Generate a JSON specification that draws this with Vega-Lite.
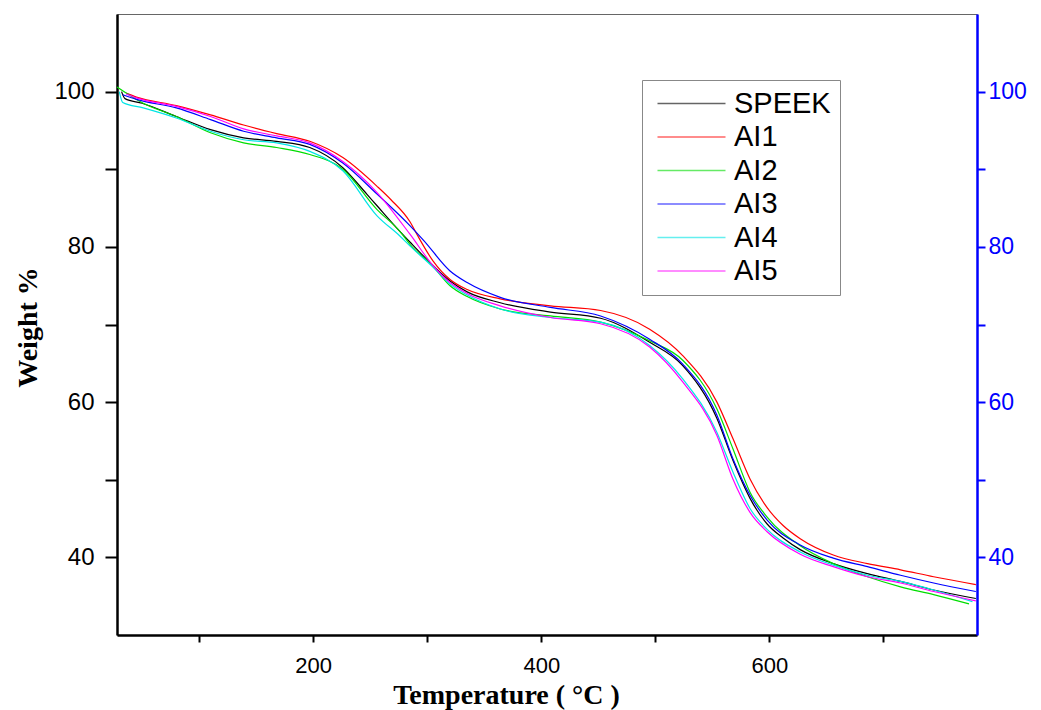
{
  "$schema": "https://vega.github.io/schema/vega-lite/v6.json",
  "width": 860,
  "height": 621,
  "autosize": "none",
  "padding": {"left": 117, "top": 14, "right": 64, "bottom": 75},
  "background": "white",
  "config": {
    "view": {"stroke": "#666666", "strokeWidth": 1},
    "axis": {"grid": false}
  },
  "data": {
    "values": [
      {"s": "SPEEK", "T": 32, "W": 100.0}, {"s": "SPEEK", "T": 35, "W": 99.1}, {"s": "SPEEK", "T": 50, "W": 98.5}, {"s": "SPEEK", "T": 80, "W": 96.8}, {"s": "SPEEK", "T": 110, "W": 95.1}, {"s": "SPEEK", "T": 139, "W": 94.05}, {"s": "SPEEK", "T": 168, "W": 93.6}, {"s": "SPEEK", "T": 197, "W": 92.8}, {"s": "SPEEK", "T": 226, "W": 90.2}, {"s": "SPEEK", "T": 247, "W": 86.8}, {"s": "SPEEK", "T": 256, "W": 85.3}, {"s": "SPEEK", "T": 276, "W": 82.0}, {"s": "SPEEK", "T": 285, "W": 80.6}, {"s": "SPEEK", "T": 305, "W": 77.6}, {"s": "SPEEK", "T": 320, "W": 75.6}, {"s": "SPEEK", "T": 335, "W": 74.2}, {"s": "SPEEK", "T": 364, "W": 72.8}, {"s": "SPEEK", "T": 408, "W": 71.6}, {"s": "SPEEK", "T": 452, "W": 70.8}, {"s": "SPEEK", "T": 495, "W": 67.7}, {"s": "SPEEK", "T": 524, "W": 64.7}, {"s": "SPEEK", "T": 554, "W": 57.9}, {"s": "SPEEK", "T": 568, "W": 52.5}, {"s": "SPEEK", "T": 583, "W": 47.6}, {"s": "SPEEK", "T": 598, "W": 44.3}, {"s": "SPEEK", "T": 612, "W": 42.5}, {"s": "SPEEK", "T": 627, "W": 41.0}, {"s": "SPEEK", "T": 656, "W": 39.2}, {"s": "SPEEK", "T": 686, "W": 37.9}, {"s": "SPEEK", "T": 715, "W": 36.9}, {"s": "SPEEK", "T": 744, "W": 35.8}, {"s": "SPEEK", "T": 781, "W": 34.7},

      {"s": "AI1", "T": 36, "W": 99.8}, {"s": "AI1", "T": 45, "W": 99.3}, {"s": "AI1", "T": 80, "W": 98.2}, {"s": "AI1", "T": 110, "W": 97.0}, {"s": "AI1", "T": 139, "W": 95.7}, {"s": "AI1", "T": 168, "W": 94.6}, {"s": "AI1", "T": 197, "W": 93.6}, {"s": "AI1", "T": 226, "W": 91.5}, {"s": "AI1", "T": 256, "W": 87.8}, {"s": "AI1", "T": 268, "W": 86.1}, {"s": "AI1", "T": 285, "W": 83.2}, {"s": "AI1", "T": 291, "W": 81.6}, {"s": "AI1", "T": 305, "W": 78.2}, {"s": "AI1", "T": 320, "W": 75.8}, {"s": "AI1", "T": 335, "W": 74.5}, {"s": "AI1", "T": 364, "W": 73.3}, {"s": "AI1", "T": 408, "W": 72.4}, {"s": "AI1", "T": 452, "W": 71.8}, {"s": "AI1", "T": 495, "W": 69.4}, {"s": "AI1", "T": 524, "W": 66.0}, {"s": "AI1", "T": 554, "W": 60.0}, {"s": "AI1", "T": 568, "W": 55.3}, {"s": "AI1", "T": 583, "W": 50.1}, {"s": "AI1", "T": 598, "W": 46.4}, {"s": "AI1", "T": 612, "W": 44.1}, {"s": "AI1", "T": 627, "W": 42.4}, {"s": "AI1", "T": 656, "W": 40.3}, {"s": "AI1", "T": 686, "W": 39.2}, {"s": "AI1", "T": 715, "W": 38.4}, {"s": "AI1", "T": 744, "W": 37.5}, {"s": "AI1", "T": 781, "W": 36.5},

      {"s": "AI2", "T": 28, "W": 100.6}, {"s": "AI2", "T": 51, "W": 98.5}, {"s": "AI2", "T": 80, "W": 96.8}, {"s": "AI2", "T": 110, "W": 94.7}, {"s": "AI2", "T": 139, "W": 93.4}, {"s": "AI2", "T": 168, "W": 92.8}, {"s": "AI2", "T": 197, "W": 91.9}, {"s": "AI2", "T": 226, "W": 90.0}, {"s": "AI2", "T": 256, "W": 84.8}, {"s": "AI2", "T": 276, "W": 82.0}, {"s": "AI2", "T": 285, "W": 80.3}, {"s": "AI2", "T": 305, "W": 77.5}, {"s": "AI2", "T": 320, "W": 75.0}, {"s": "AI2", "T": 335, "W": 73.6}, {"s": "AI2", "T": 364, "W": 72.0}, {"s": "AI2", "T": 408, "W": 71.1}, {"s": "AI2", "T": 452, "W": 70.3}, {"s": "AI2", "T": 495, "W": 67.9}, {"s": "AI2", "T": 524, "W": 65.4}, {"s": "AI2", "T": 554, "W": 59.1}, {"s": "AI2", "T": 568, "W": 54.0}, {"s": "AI2", "T": 583, "W": 48.4}, {"s": "AI2", "T": 598, "W": 45.2}, {"s": "AI2", "T": 627, "W": 41.5}, {"s": "AI2", "T": 656, "W": 39.2}, {"s": "AI2", "T": 686, "W": 37.5}, {"s": "AI2", "T": 715, "W": 36.2}, {"s": "AI2", "T": 744, "W": 35.2}, {"s": "AI2", "T": 775, "W": 34.0},

      {"s": "AI3", "T": 33, "W": 99.6}, {"s": "AI3", "T": 45, "W": 99.0}, {"s": "AI3", "T": 80, "W": 97.9}, {"s": "AI3", "T": 110, "W": 96.4}, {"s": "AI3", "T": 139, "W": 94.9}, {"s": "AI3", "T": 168, "W": 94.05}, {"s": "AI3", "T": 197, "W": 93.2}, {"s": "AI3", "T": 226, "W": 90.8}, {"s": "AI3", "T": 256, "W": 86.8}, {"s": "AI3", "T": 285, "W": 82.7}, {"s": "AI3", "T": 297, "W": 80.8}, {"s": "AI3", "T": 320, "W": 76.9}, {"s": "AI3", "T": 335, "W": 75.4}, {"s": "AI3", "T": 364, "W": 73.5}, {"s": "AI3", "T": 408, "W": 72.2}, {"s": "AI3", "T": 452, "W": 71.1}, {"s": "AI3", "T": 495, "W": 68.1}, {"s": "AI3", "T": 524, "W": 64.9}, {"s": "AI3", "T": 554, "W": 58.3}, {"s": "AI3", "T": 568, "W": 52.7}, {"s": "AI3", "T": 583, "W": 48.0}, {"s": "AI3", "T": 598, "W": 44.8}, {"s": "AI3", "T": 627, "W": 41.6}, {"s": "AI3", "T": 656, "W": 39.9}, {"s": "AI3", "T": 686, "W": 38.8}, {"s": "AI3", "T": 715, "W": 37.7}, {"s": "AI3", "T": 744, "W": 36.7}, {"s": "AI3", "T": 781, "W": 35.6},

      {"s": "AI4", "T": 30, "W": 100.0}, {"s": "AI4", "T": 33, "W": 98.6}, {"s": "AI4", "T": 51, "W": 97.9}, {"s": "AI4", "T": 80, "W": 96.6}, {"s": "AI4", "T": 110, "W": 94.9}, {"s": "AI4", "T": 139, "W": 93.8}, {"s": "AI4", "T": 168, "W": 93.4}, {"s": "AI4", "T": 197, "W": 92.3}, {"s": "AI4", "T": 226, "W": 89.8}, {"s": "AI4", "T": 256, "W": 84.0}, {"s": "AI4", "T": 276, "W": 81.4}, {"s": "AI4", "T": 285, "W": 80.1}, {"s": "AI4", "T": 305, "W": 77.4}, {"s": "AI4", "T": 320, "W": 75.2}, {"s": "AI4", "T": 335, "W": 73.8}, {"s": "AI4", "T": 364, "W": 72.0}, {"s": "AI4", "T": 408, "W": 70.9}, {"s": "AI4", "T": 452, "W": 70.3}, {"s": "AI4", "T": 495, "W": 67.3}, {"s": "AI4", "T": 524, "W": 63.0}, {"s": "AI4", "T": 554, "W": 56.1}, {"s": "AI4", "T": 568, "W": 51.0}, {"s": "AI4", "T": 583, "W": 46.3}, {"s": "AI4", "T": 598, "W": 43.6}, {"s": "AI4", "T": 627, "W": 40.7}, {"s": "AI4", "T": 656, "W": 39.0}, {"s": "AI4", "T": 686, "W": 37.7}, {"s": "AI4", "T": 715, "W": 36.9}, {"s": "AI4", "T": 744, "W": 35.8}, {"s": "AI4", "T": 778, "W": 34.3},

      {"s": "AI5", "T": 36, "W": 99.7}, {"s": "AI5", "T": 45, "W": 99.2}, {"s": "AI5", "T": 80, "W": 98.1}, {"s": "AI5", "T": 110, "W": 96.8}, {"s": "AI5", "T": 139, "W": 95.2}, {"s": "AI5", "T": 168, "W": 94.3}, {"s": "AI5", "T": 197, "W": 93.4}, {"s": "AI5", "T": 226, "W": 91.0}, {"s": "AI5", "T": 256, "W": 87.0}, {"s": "AI5", "T": 285, "W": 81.6}, {"s": "AI5", "T": 305, "W": 77.6}, {"s": "AI5", "T": 320, "W": 75.4}, {"s": "AI5", "T": 335, "W": 74.0}, {"s": "AI5", "T": 364, "W": 72.4}, {"s": "AI5", "T": 408, "W": 70.9}, {"s": "AI5", "T": 452, "W": 70.1}, {"s": "AI5", "T": 495, "W": 67.1}, {"s": "AI5", "T": 524, "W": 62.6}, {"s": "AI5", "T": 554, "W": 55.7}, {"s": "AI5", "T": 568, "W": 50.1}, {"s": "AI5", "T": 583, "W": 45.8}, {"s": "AI5", "T": 598, "W": 43.3}, {"s": "AI5", "T": 627, "W": 40.4}, {"s": "AI5", "T": 656, "W": 38.8}, {"s": "AI5", "T": 686, "W": 37.5}, {"s": "AI5", "T": 715, "W": 36.7}, {"s": "AI5", "T": 744, "W": 35.6}, {"s": "AI5", "T": 781, "W": 34.4}
    ]
  },
  "layer": [
    {
      "mark": {"type": "line", "strokeWidth": 1.2, "interpolate": "monotone"},
      "encoding": {
        "x": {
          "field": "T", "type": "quantitative",
          "scale": {"domain": [28, 782], "nice": false, "zero": false},
          "axis": {
            "values": [100, 200, 300, 400, 500, 600, 700],
            "labelExpr": "datum.value % 200 == 0 ? datum.label : ''",
            "domainColor": "black", "domainWidth": 2.5,
            "tickColor": "black", "tickWidth": 2, "tickSize": 7,
            "labelFont": "Liberation Sans", "labelFontSize": 22, "labelColor": "black", "labelPadding": 13,
            "title": "Temperature ( °C )",
            "titleFont": "Liberation Serif", "titleFontSize": 28, "titleFontWeight": "bold", "titleColor": "black",
            "titleX": 389, "titleY": 68, "titleAlign": "center", "titleBaseline": "alphabetic"
          }
        },
        "y": {
          "field": "W", "type": "quantitative",
          "scale": {"domain": [30, 110], "nice": false, "zero": false},
          "axis": {
            "orient": "left",
            "values": [40, 50, 60, 70, 80, 90, 100],
            "labelExpr": "datum.value % 20 == 0 ? datum.label : ''",
            "domainColor": "black", "domainWidth": 2.5,
            "tickColor": "black", "tickWidth": 2, "tickSize": 12,
            "labelFont": "Liberation Sans", "labelFontSize": 24, "labelColor": "black", "labelPadding": 11,
            "title": "Weight %",
            "titleFont": "Liberation Serif", "titleFontSize": 28, "titleFontWeight": "bold", "titleColor": "black",
            "titleX": -89, "titleY": 313, "titleAngle": -90, "titleAlign": "center", "titleBaseline": "middle"
          }
        },
        "color": {
          "field": "s", "type": "nominal",
          "scale": {
            "domain": ["SPEEK", "AI1", "AI2", "AI3", "AI4", "AI5"],
            "range": ["#000000", "#ff0000", "#00dd00", "#0000ff", "#00e5e5", "#ff00ff"]
          },
          "legend": {
            "title": null,
            "orient": "none",
            "legendX": 525,
            "legendY": 66,
            "symbolType": "M-3,0H3",
            "symbolSize": 514,
            "symbolStrokeWidth": 1.5,
            "symbolOpacity": 0.6,
            "symbolOffset": 26,
            "labelOffset": 28,
            "labelFont": "Liberation Sans",
            "labelFontSize": 29,
            "labelColor": "black",
            "rowPadding": 3.5,
            "padding": 9,
            "strokeColor": "#888888",
            "fillColor": "white"
          }
        }
      }
    },
    {
      "mark": {"type": "line", "opacity": 0},
      "encoding": {
        "x": {"field": "T", "type": "quantitative"},
        "y": {
          "field": "W", "type": "quantitative",
          "axis": {
            "orient": "right",
            "values": [40, 50, 60, 70, 80, 90, 100],
            "labelExpr": "datum.value % 20 == 0 ? datum.label : ''",
            "domainColor": "#0000ff", "domainWidth": 2.5,
            "tickColor": "#0000ff", "tickWidth": 2, "tickSize": 8,
            "labelFont": "Liberation Sans", "labelFontSize": 23, "labelColor": "#0000ff", "labelPadding": 3,
            "title": null
          }
        },
        "detail": {"field": "s", "type": "nominal"}
      }
    }
  ],
  "resolve": {"axis": {"y": "independent"}}
}
